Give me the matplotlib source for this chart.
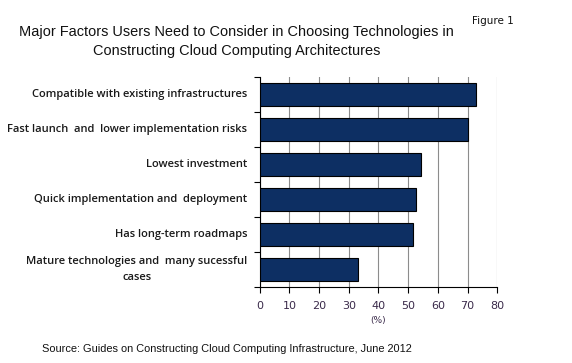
import matplotlib
matplotlib.use("Agg")
import matplotlib.pyplot as plt

categories = [
    "Compatible with existing infrastructures",
    "Fast launch  and  lower implementation risks",
    "Lowest investment",
    "Quick implementation and  deployment",
    "Has long-term roadmaps",
    "Mature technologies and  many sucessful\ncases",
]
values = [72.8, 70.0, 54.3, 52.6, 51.6, 33.2]
xticks = [0, 10, 20, 30, 40, 50, 60, 70, 80]

fig = plt.figure(figsize=(5.72, 3.63), dpi=100)
ax = fig.add_axes([0.454, 0.209, 0.4154, 0.579])

ypos = list(range(len(categories)))
ax.barh(ypos, values, height=0.67, color="#0d2f63", edgecolor="black", linewidth=0.8, zorder=3)
ax.set_ylim(len(categories) - 0.5, -0.5)
ax.set_xlim(0, 80)
ax.set_xticks(xticks)
ax.set_xticklabels([str(t) for t in xticks], fontfamily="DejaVu Sans", fontsize=8, color="#3a2a4a")
ax.xaxis.grid(True, color="#8c8c8c", linewidth=0.8, zorder=0)
ax.set_yticks([y + 0.5 for y in [-1] + ypos])
ax.set_yticklabels([])
ax.tick_params(axis="y", length=4, width=0.8, direction="out")
ax.tick_params(axis="x", length=4, width=0.8, direction="out", pad=6)
for s in ["top", "right"]:
    ax.spines[s].set_visible(False)
for s in ["left", "bottom"]:
    ax.spines[s].set_color("black")
    ax.spines[s].set_linewidth(0.8)

for y, lab in zip(ypos, categories):
    ax.text(-0.052, y, lab, transform=ax.get_yaxis_transform(), ha="right", va="center",
            multialignment="center", fontfamily="Open Sans", fontweight="semibold",
            fontsize=8.05, color="#1a1a1a", linespacing=1.65)
ax.text(0.5, -0.135, "(%)", transform=ax.transAxes, ha="center", va="top",
        fontfamily="DejaVu Sans", fontsize=6.5, color="#3a2a4a")

fig.text(0.413, 0.886, "Major Factors Users Need to Consider in Choosing Technologies in\nConstructing Cloud Computing Architectures",
         ha="center", va="center", fontfamily="Liberation Sans", fontsize=10.45, color="#111111", linespacing=1.45)
fig.text(0.862, 0.942, "Figure 1", ha="center", va="center", fontfamily="DejaVu Sans", fontsize=7.5, color="#111111")
fig.text(0.073, 0.038, "Source: Guides on Constructing Cloud Computing Infrastructure, June 2012",
         ha="left", va="center", fontfamily="Liberation Sans", fontsize=7.9, color="#111111")

fig.savefig("out.png", dpi=100)
